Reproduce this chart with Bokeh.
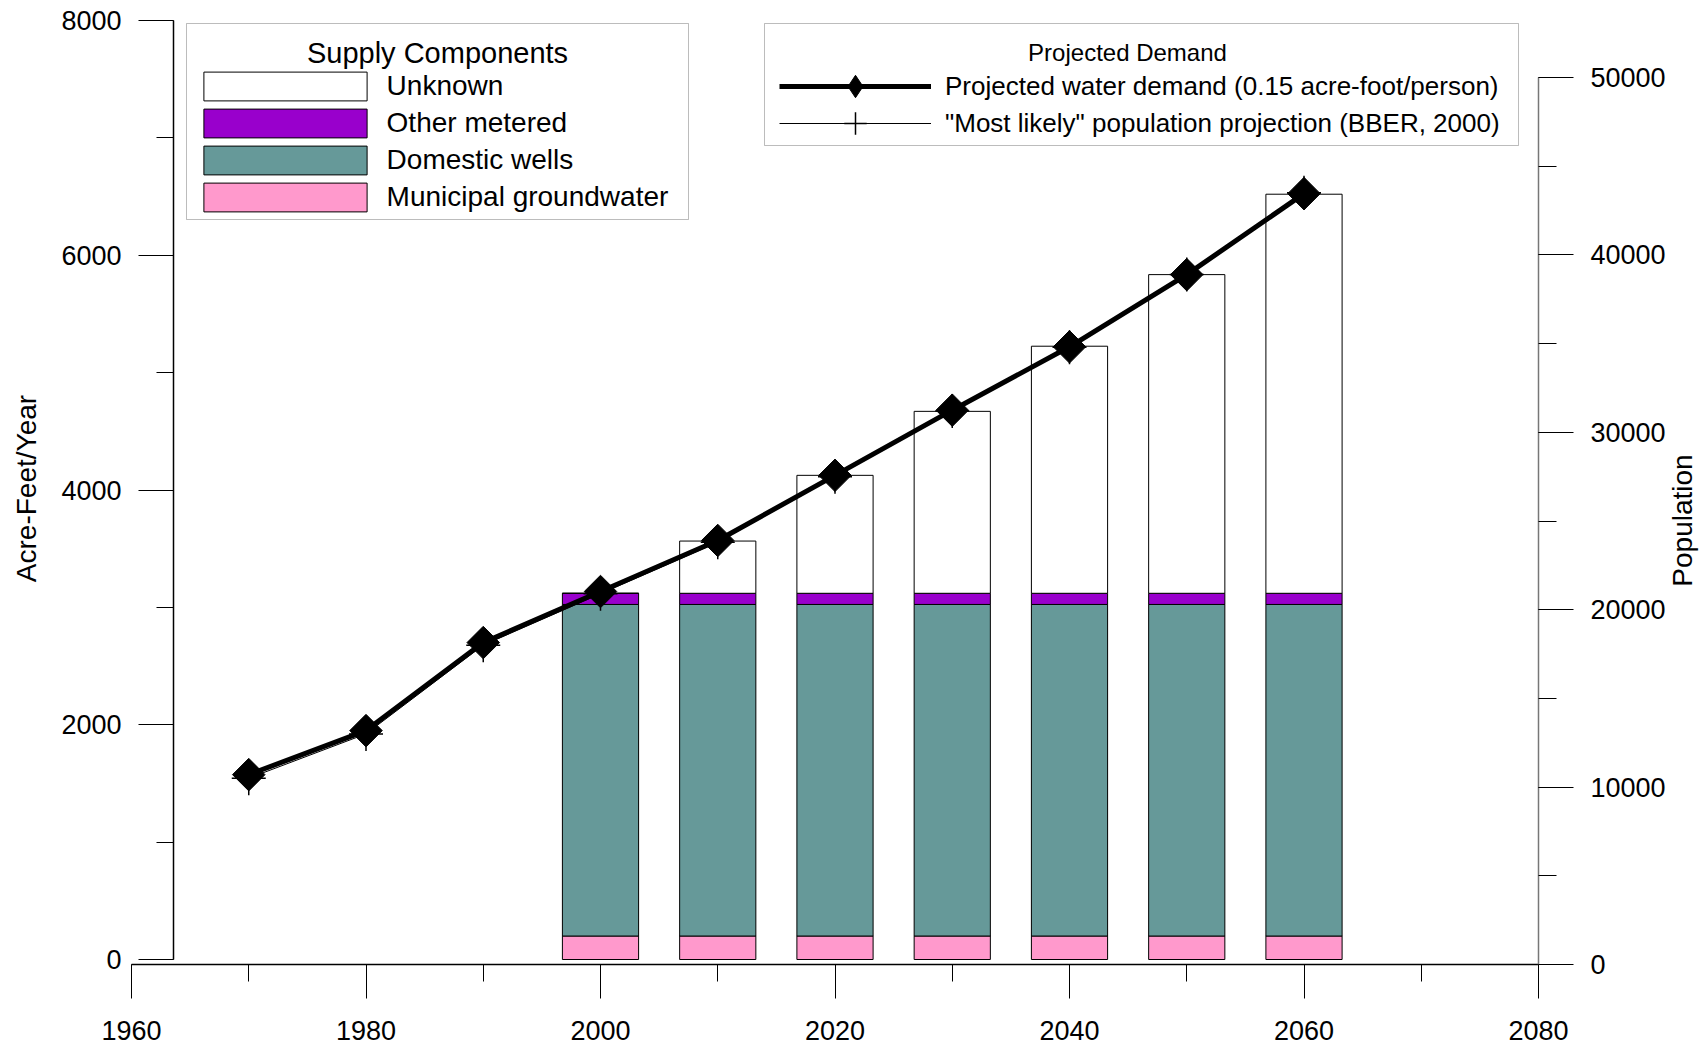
import numpy as np
from bokeh.plotting import figure
from bokeh.models import (ColumnDataSource, LinearAxis, Range1d, SingleIntervalTicker,
                          Legend, LegendItem, Label, BoxAnnotation)
from bokeh.embed import file_html
from bokeh.resources import INLINE

# ---------------- data ----------------
years_line = [1970, 1980, 1990, 2000, 2010, 2020, 2030, 2040, 2050, 2060]
population = [10500, 13000, 18000, 20900, 23800, 27500, 31200, 34800, 38900, 43500]
demand = [1575, 1950, 2700, 3135, 3570, 4125, 4680, 5220, 5835, 6525]

years_bar = [2000, 2010, 2020, 2030, 2040, 2050, 2060]
municipal = [200, 200, 200, 200, 200, 200, 200]
domestic = [2825, 2825, 2825, 2825, 2825, 2825, 2825]
other_metered = [95, 95, 95, 95, 95, 95, 95]
unknown = [0, 445, 1005, 1550, 2105, 2715, 3400]

supply_labels = ["Unknown", "Other metered", "Domestic wells", "Municipal groundwater"]
demand_labels = ["Projected water demand (0.15 acre-foot/person)",
                 '"Most likely" population projection (BBER, 2000)']

# ---------------- layout (pixel positions -> data positions) ----------------
W, H = 1705, 1048
X_PX0, X_PX1 = 131, 1538          # px of 1960 and 2080
LEFT0_PY, LEFT8000_PY = 959, 20   # px of 0 and 8000 on the left axis
POP0_PY, POP50K_PY = 964, 77      # px of 0 and 50000 on the right axis

def px2x(px):
    return 1960 + (px - X_PX0) * 120 / (X_PX1 - X_PX0)

def py2y(py):
    return (LEFT0_PY - py) * 8000 / (LEFT0_PY - LEFT8000_PY)

def py2pop(py):
    return (POP0_PY - py) * 50000 / (POP0_PY - POP50K_PY)

FONT = "Liberation Sans"

p = figure(width=W, height=H,
           x_range=Range1d(px2x(0), px2x(W)), y_range=Range1d(py2y(H), py2y(0)),
           output_backend="svg", toolbar_location=None, y_axis_location=None,
           min_border_left=0, min_border_right=0, min_border_top=0, min_border_bottom=0)
p.background_fill_color = "white"
p.border_fill_color = "white"
p.outline_line_color = None
p.grid.grid_line_color = None
p.extra_y_ranges = {"pop": Range1d(py2pop(H), py2pop(0))}

# x axis
xa = p.xaxis[0]
xa.fixed_location = py2y(964)
xa.bounds = (1960, 2080)
xa.ticker = SingleIntervalTicker(interval=20, num_minor_ticks=2)
xa.major_tick_out = 34
xa.major_tick_in = 0
xa.minor_tick_out = 17
xa.minor_tick_in = 0
xa.axis_line_width = 1.5
xa.major_label_standoff = 22
xa.major_label_text_font = FONT
xa.major_label_text_font_size = "27px"
xa.major_label_text_color = "black"

# left axis
ly = LinearAxis(ticker=SingleIntervalTicker(interval=2000, num_minor_ticks=2),
                bounds=(0, 8000), fixed_location=px2x(173))
ly.major_tick_out = 35
ly.major_tick_in = 0
ly.minor_tick_out = 17
ly.minor_tick_in = 0
ly.axis_line_width = 1.5
ly.major_label_standoff = 17
ly.major_label_text_font = FONT
ly.major_label_text_font_size = "27px"
ly.major_label_text_color = "black"
p.add_layout(ly, "left")

# right axis (population)
ry = LinearAxis(y_range_name="pop", ticker=SingleIntervalTicker(interval=10000, num_minor_ticks=2),
                bounds=(0, 50000), fixed_location=2080)
ry.major_tick_out = 35
ry.major_tick_in = 0
ry.minor_tick_out = 18
ry.minor_tick_in = 0
ry.axis_line_color = "#777777"
ry.axis_line_width = 1.5
ry.major_label_standoff = 17
ry.major_label_text_font = FONT
ry.major_label_text_font_size = "27px"
ry.major_label_text_color = "black"
p.add_layout(ry, "right")

# stacked bars
src = ColumnDataSource(dict(year=years_bar, municipal=municipal, domestic=domestic,
                            other=other_metered, unknown=unknown))
bars = p.vbar_stack(["municipal", "domestic", "other", "unknown"], x="year", width=6.5,
                    source=src, fill_color=["#FF99CC", "#669999", "#9900CC", "white"],
                    line_color="black", line_width=1)

# population line (right axis)
pop_l = p.line(years_line, population, y_range_name="pop", line_color="black", line_width=1)
pop_m = p.scatter(years_line, population, y_range_name="pop", marker="cross", size=34,
                  line_color="black", line_width=1.5)
# demand line (left axis)
dem_l = p.line(years_line, demand, line_color="black", line_width=5)
dem_m = p.scatter(years_line, demand, marker="square", angle=np.pi / 4, size=23,
                  fill_color="black", line_color="black")
# diamond used only as the legend sample
dem_key = p.scatter(years_line, demand, marker="diamond", fill_color="black",
                    line_color="black", visible=False)

# legend boxes
for (l, r, t, b) in [(186, 688, 23, 219), (764, 1518, 23, 145)]:
    p.add_layout(BoxAnnotation(left=px2x(l), right=px2x(r), top=py2y(t), bottom=py2y(b),
                               fill_alpha=0, line_color="#222222", line_width=1))

leg1 = Legend(items=[LegendItem(label=supply_labels[0], renderers=[bars[3]]),
                     LegendItem(label=supply_labels[1], renderers=[bars[2]]),
                     LegendItem(label=supply_labels[2], renderers=[bars[1]]),
                     LegendItem(label=supply_labels[3], renderers=[bars[0]])],
              location=(182.6, H - 214.5), glyph_width=204, glyph_height=36,
              spacing=1, padding=0, margin=0, label_standoff=0, label_height=36,
              border_line_alpha=0, background_fill_alpha=0,
              label_text_font=FONT, label_text_font_size="28px", label_text_color="black")
p.add_layout(leg1)

# one legend per demand entry so the sample markers can be larger than the row pitch
GH = 56
for label, rends, cy in [(demand_labels[0], [dem_l, dem_key], 86),
                         (demand_labels[1], [pop_l, pop_m], 123)]:
    lg = Legend(items=[LegendItem(label=label, renderers=rends)],
                location=(779, H - (cy + GH / 2)), glyph_width=152, glyph_height=GH,
                spacing=0, padding=0, margin=0, label_standoff=14, label_height=GH,
                border_line_alpha=0, background_fill_alpha=0,
                label_text_font=FONT, label_text_font_size="26px", label_text_color="black")
    p.add_layout(lg)

# titles
p.add_layout(Label(x=px2x(437), y=py2y(52), text="Supply Components", text_align="center",
                   text_baseline="middle", text_font=FONT, text_font_size="29px",
                   text_color="black"))
p.add_layout(Label(x=px2x(1127), y=py2y(52), text="Projected Demand", text_align="center",
                   text_baseline="middle", text_font=FONT, text_font_size="24px",
                   text_color="black"))
p.add_layout(Label(x=px2x(26), y=py2y(488), text="Acre-Feet/Year", angle=np.pi / 2,
                   text_align="center", text_baseline="middle", text_font=FONT,
                   text_font_size="28px", text_color="black"))
p.add_layout(Label(x=px2x(1682), y=py2y(520), text="Population", angle=np.pi / 2,
                   text_align="center", text_baseline="middle", text_font=FONT,
                   text_font_size="28px", text_color="black"))

open("out.html", "w").write(file_html(p, INLINE))
